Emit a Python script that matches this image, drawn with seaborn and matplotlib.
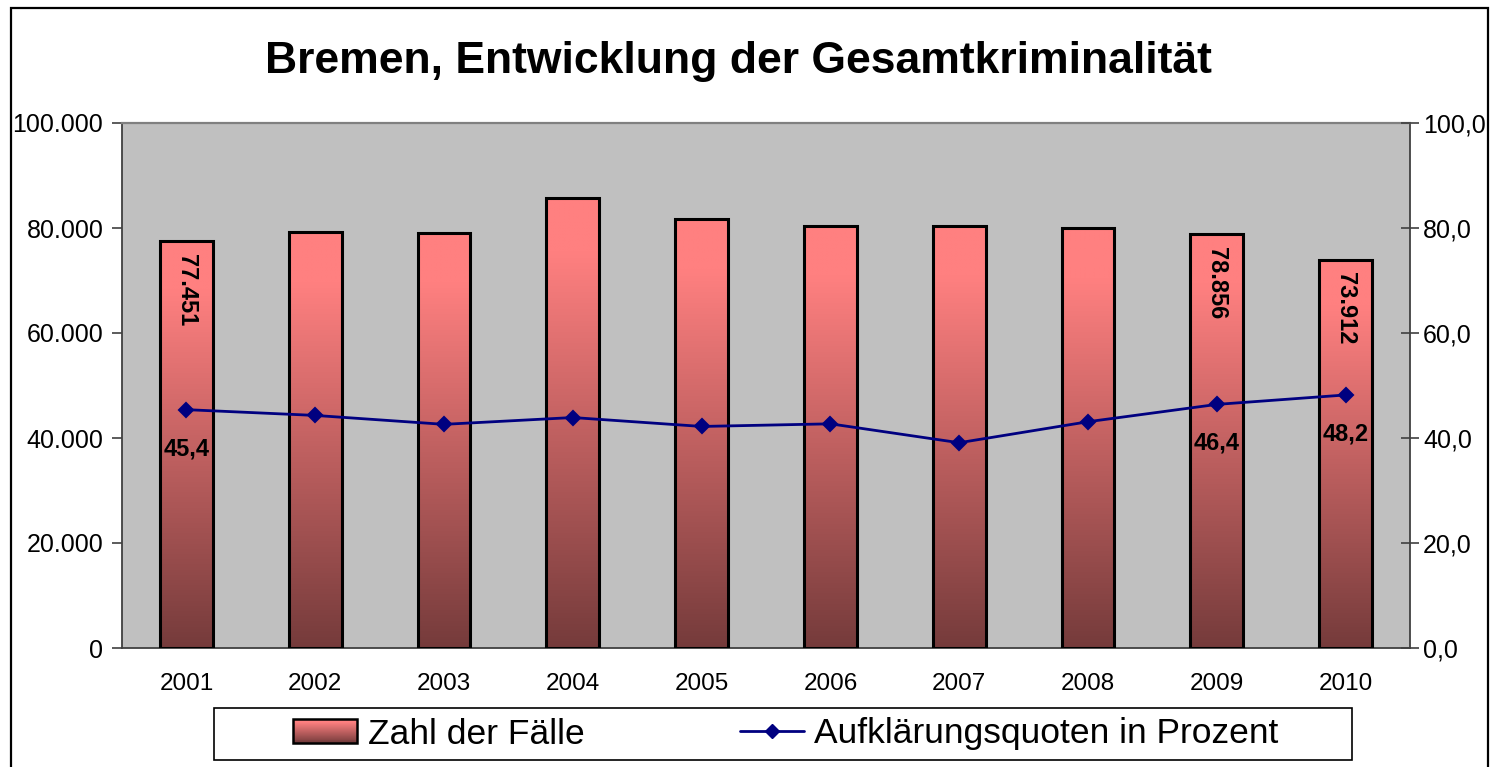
import numpy as np
import pandas as pd
import matplotlib
matplotlib.use("Agg")
import matplotlib.pyplot as plt
import seaborn as sns
from matplotlib.patches import Rectangle
from matplotlib.legend_handler import HandlerBase
from matplotlib.lines import Line2D
from matplotlib.colors import to_rgb

# ---------------- data ----------------
years = ["2001", "2002", "2003", "2004", "2005", "2006", "2007", "2008", "2009", "2010"]
cases = [77451, 79170, 79100, 85730, 81780, 80450, 80450, 80000, 78856, 73912]
rates = [45.4, 44.3, 42.6, 43.9, 42.2, 42.7, 39.1, 43.1, 46.4, 48.2]
case_labels = {0: "77.451", 8: "78.856", 9: "73.912"}
rate_labels = {0: "45,4", 8: "46,4", 9: "48,2"}
title = "Bremen, Entwicklung der Gesamtkriminalität"
legend_labels = ["Zahl der Fälle", "Aufklärungsquoten in Prozent"]
left_ticks = [0, 20000, 40000, 60000, 80000, 100000]
right_ticks = [0, 20, 40, 60, 80, 100]

sns.set_theme(style="white")
plt.rcParams["font.family"] = ["Liberation Sans", "DejaVu Sans"]
plt.rcParams["text.color"] = "black"
plt.rcParams["axes.labelcolor"] = "black"
plt.rcParams["xtick.color"] = "black"
plt.rcParams["ytick.color"] = "black"
plt.rcParams["legend.labelcolor"] = "black"

TOP = np.array(to_rgb("#FF8080"))
BOT = np.array(to_rgb("#753B3B"))


def grad_color(t):
    f = np.clip((t - 0.12) / 0.88, 0, 1)
    return TOP + (BOT - TOP) * f


W, H = 1492, 767
fig = plt.figure(figsize=(W / 100, H / 100), dpi=100)
fig.patch.set_facecolor("white")

# outer chart border
fig.add_artist(Rectangle((11 / W, -0.01), (1488 - 11) / W, (767 - 8) / H + 0.01,
                         transform=fig.transFigure, fill=False, edgecolor="black",
                         linewidth=1.6))

ax = fig.add_axes([122 / W, (H - 648) / H, (1410 - 122) / W, (648 - 123) / H])
ax.set_facecolor("#C0C0C0")

df = pd.DataFrame({"Jahr": years, "Faelle": cases, "Quote": rates})

sns.barplot(data=df, x="Jahr", y="Faelle", ax=ax, width=0.41, color="#FF8080",
            edgecolor="black", linewidth=2.2, saturation=1, zorder=3)

# gradient fill inside the bars
gsteps = 256
tt = np.linspace(0, 1, gsteps)
grad = np.array([grad_color(t) for t in tt]).reshape(gsteps, 1, 3)
for p in ax.patches:
    x0, y0 = p.get_x(), p.get_y()
    w, h = p.get_width(), p.get_height()
    p.set_facecolor("none")
    im = ax.imshow(grad, extent=[x0, x0 + w, y0, y0 + h], aspect="auto",
                   origin="upper", zorder=2.5, interpolation="bilinear")
    im.set_clip_path(p)

ax.set_xlim(-0.5, len(years) - 0.5)
ax.set_ylim(0, 100000)
ax.set_yticks(left_ticks)
ax.set_yticklabels([f"{v:,.0f}".replace(",", ".") for v in left_ticks], fontsize=18)
ax.set_xticks(range(len(years)))
ax.set_xticklabels(years, fontsize=17.5)
ax.tick_params(axis="x", which="major", length=0, pad=18, labelcolor="black")
ax.set_xticks(np.arange(-0.5, len(years), 1.0), minor=True)
ax.tick_params(axis="x", which="minor", direction="inout", length=12, width=1.2,
               color="#404040")
ax.tick_params(axis="y", direction="out", length=7, width=1.2, color="#404040",
               pad=6.5, left=True, labelcolor="black")
ax.set_xlabel("")
ax.set_ylabel("")
for s in ["left", "bottom", "right"]:
    ax.spines[s].set_color("#404040")
    ax.spines[s].set_linewidth(1.3)
ax.spines["top"].set_color("#808080")
ax.spines["top"].set_linewidth(1.6)

# bar value labels
for i, txt in case_labels.items():
    ax.annotate(txt, xy=(i, cases[i]), xytext=(0, -9), textcoords="offset points",
                rotation=270, ha="center", va="top", fontsize=17, fontweight="bold",
                color="black", zorder=6)

# line on secondary axis
ax2 = ax.twinx()
sns.pointplot(data=df, x="Jahr", y="Quote", ax=ax2, color="#000080", markers="D",
              markersize=7.5, linewidth=2.0, errorbar=None, zorder=5)
ax2.set_xlim(-0.5, len(years) - 0.5)
ax2.set_ylim(0, 100)
ax2.set_yticks(right_ticks)
ax2.set_yticklabels([f"{v:.1f}".replace(".", ",") for v in right_ticks], fontsize=18)
ax2.tick_params(axis="y", direction="inout", length=13, width=1.2, color="#404040",
                pad=3, right=True, labelcolor="black")
ax2.set_xlabel("")
ax2.set_ylabel("")
for s in ax2.spines.values():
    s.set_visible(False)
ax2.grid(False)
ax.grid(False)

for i, txt in rate_labels.items():
    ax2.annotate(txt, xy=(i, rates[i]), xytext=(0, -28), textcoords="offset points",
                 ha="center", va="center", fontsize=17, fontweight="bold",
                 color="black", zorder=7)

# title
fig.text(738 / W, 1 - 62 / H, title, ha="center", va="center", fontsize=32,
         fontweight="bold", color="black")


# legend
class GradHandler(HandlerBase):
    def create_artists(self, legend, orig_handle, xdescent, ydescent, width, height,
                       fontsize, trans):
        arts = []
        n = 24
        for k in range(n):
            t = (k + 0.5) / n
            yb = -ydescent + height * (1 - (k + 1) / n)
            arts.append(Rectangle((-xdescent, yb), width, height / n + 0.3,
                                  facecolor=grad_color(t), edgecolor="none",
                                  transform=trans))
        arts.append(Rectangle((-xdescent, -ydescent), width, height, facecolor="none",
                              edgecolor="black", linewidth=1.8, transform=trans))
        return arts


bar_handle = Rectangle((0, 0), 1, 1)
line_handle = Line2D([], [], color="#000080", marker="D", markersize=7.5, linewidth=2.0)

fig.add_artist(Rectangle((214 / W, (H - 760) / H), (1352 - 214) / W, (760 - 708) / H,
                         transform=fig.transFigure, facecolor="white",
                         edgecolor="black", linewidth=1.2))
leg = fig.legend([bar_handle, line_handle], legend_labels,
                 handler_map={Rectangle: GradHandler()},
                 loc="center", bbox_to_anchor=(786 / W, 1 - 734 / H), ncol=2,
                 frameon=False, fontsize=25.5, handlelength=1.8, handleheight=0.65,
                 handletextpad=0.3, columnspacing=4.4, borderpad=0, borderaxespad=0)
for t in leg.get_texts():
    t.set_color("black")

fig.savefig("out.png", dpi=100)
